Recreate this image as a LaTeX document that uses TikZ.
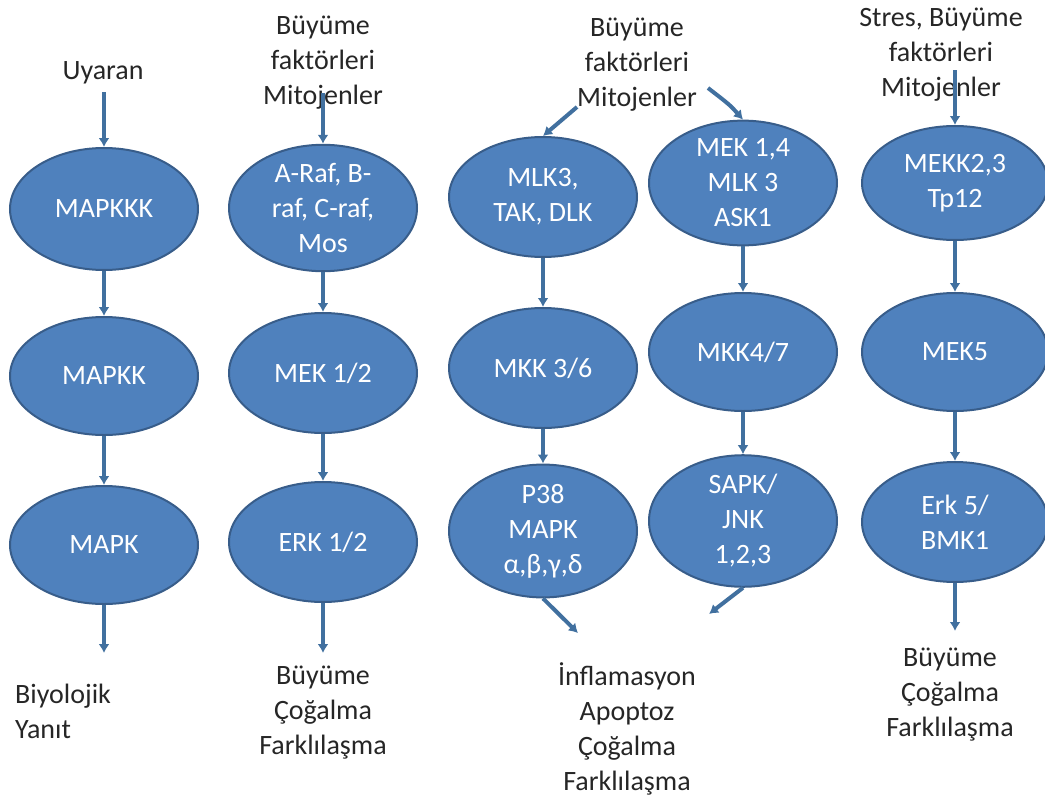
\documentclass[tikz,border=0pt]{standalone}
\usepackage{fontspec}
\setmainfont{Carlito}
\usetikzlibrary{shapes.geometric,arrows.meta}
\definecolor{ellfill}{HTML}{4F81BD}
\definecolor{elldraw}{HTML}{385D8A}
\definecolor{arr}{HTML}{41709F}
\begin{document}
\begin{tikzpicture}[x=1pt,y=-1pt,
  kin/.style={ellipse,fill=ellfill,draw=elldraw,line width=2pt,inner sep=0pt,
    minimum width=188pt,minimum height=#1,text=white,align=center,
    font=\fontsize{28}{35}\selectfont},
  kin/.default=120pt,
  lbl/.style={align=center,text=black!85,font=\fontsize{28}{35}\selectfont,inner sep=0pt},
  link/.style={draw=arr,line width=4pt,-{Latex[length=9pt,width=11pt]}}]
\useasboundingbox (0,0) rectangle (1045,798);
% column 1
\node[lbl] (uyaran) at (103,73) {Uyaran};
\coordinate (s1) at (104,92);
\node[kin=122pt] (mapkkk) at (104,209) {MAPKKK};
\node[kin=118pt] (mapkk) at (104,376) {MAPKK};
\node[kin=118pt] (mapk) at (104,545) {MAPK};
\coordinate (e1) at (104,653);
\node[lbl,align=left,anchor=west] (biyo) at (15,711) {Biyolojik\\Yanıt};
% column 2
\node[lbl] (top2) at (323,63) {Büyüme\\faktörleri\\Mitojenler};
\coordinate (s2) at (323,93);
\node[kin=122pt] (araf) at (323,208) {A-Raf, B-\\raf, C-raf,\\Mos};
\node[kin=120pt] (mek12) at (323,373) {MEK 1/2};
\node[kin=120pt] (erk12) at (323,542) {ERK 1/2};
\coordinate (e2) at (323,653);
\node[lbl] (bot2) at (323,713) {Büyüme\\Çoğalma\\Farklılaşma};
% columns 3 and 4
\node[lbl] (top34) at (637,65) {Büyüme\\faktörleri\\Mitojenler};
\coordinate (s3) at (577,107);
\coordinate (s4) at (708,88);
\node[kin=120pt] (mlk3) at (543,197) {MLK3,\\TAK, DLK};
\node[kin=120pt] (mkk36) at (543,368) {MKK 3/6};
\node[kin=132pt] (p38) at (543,531) {P38\\MAPK\\α,β,γ,δ};
\coordinate (e3) at (578,633);
\node[kin=116pt] (mek14) at (743,183) {MEK 1,4\\MLK 3\\ASK1};
\node[kin=118pt] (mkk47) at (743,352) {MKK4/7};
\node[kin=118pt] (sapk) at (743,521) {SAPK/\\JNK\\1,2,3};
\coordinate (e4) at (709,614);
\node[lbl] (bot34) at (627,729) {İnflamasyon\\Apoptoz\\Çoğalma\\Farklılaşma};
% column 5
\node[lbl] (top5) at (941,55) {Stres, Büyüme\\faktörleri\\Mitojenler};
\coordinate (s5) at (955,70);
\node[kin=114pt,minimum width=186pt] (mekk23) at (955,183) {MEKK2,3\\Tp12};
\node[kin=118pt,minimum width=186pt] (mek5) at (955,352) {MEK5};
\node[kin=120pt,minimum width=186pt] (erk5) at (955,522) {Erk 5/\\BMK1};
\coordinate (e5) at (955,631);
\node[lbl] (bot5) at (950,695) {Büyüme\\Çoğalma\\Farklılaşma};
% connectors
\draw[link] (s1) -- (mapkkk.north);
\draw[link] (mapkkk.south) -- (mapkk.north);
\draw[link] (mapkk.south) -- (mapk.north);
\draw[link] (mapk.south) -- (e1);
\draw[link] (s2) -- (araf.north);
\draw[link] (araf.south) -- (mek12.north);
\draw[link] (mek12.south) -- (erk12.north);
\draw[link] (erk12.south) -- (e2);
\draw[link] (s3) -- (mlk3.north);
\draw[link] (mlk3.south) -- (mkk36.north);
\draw[link] (mkk36.south) -- (p38.north);
\draw[link] (p38.south) -- (e3);
\draw[link] (s4) .. controls (730,105) .. (mek14.north);
\draw[link] (mek14.south) -- (mkk47.north);
\draw[link] (mkk47.south) -- (sapk.north);
\draw[link] (sapk.south) -- (e4);
\draw[link] (s5) -- (mekk23.north);
\draw[link] (mekk23.south) -- (mek5.north);
\draw[link] (mek5.south) -- (erk5.north);
\draw[link] (erk5.south) -- (e5);
\end{tikzpicture}
\end{document}
